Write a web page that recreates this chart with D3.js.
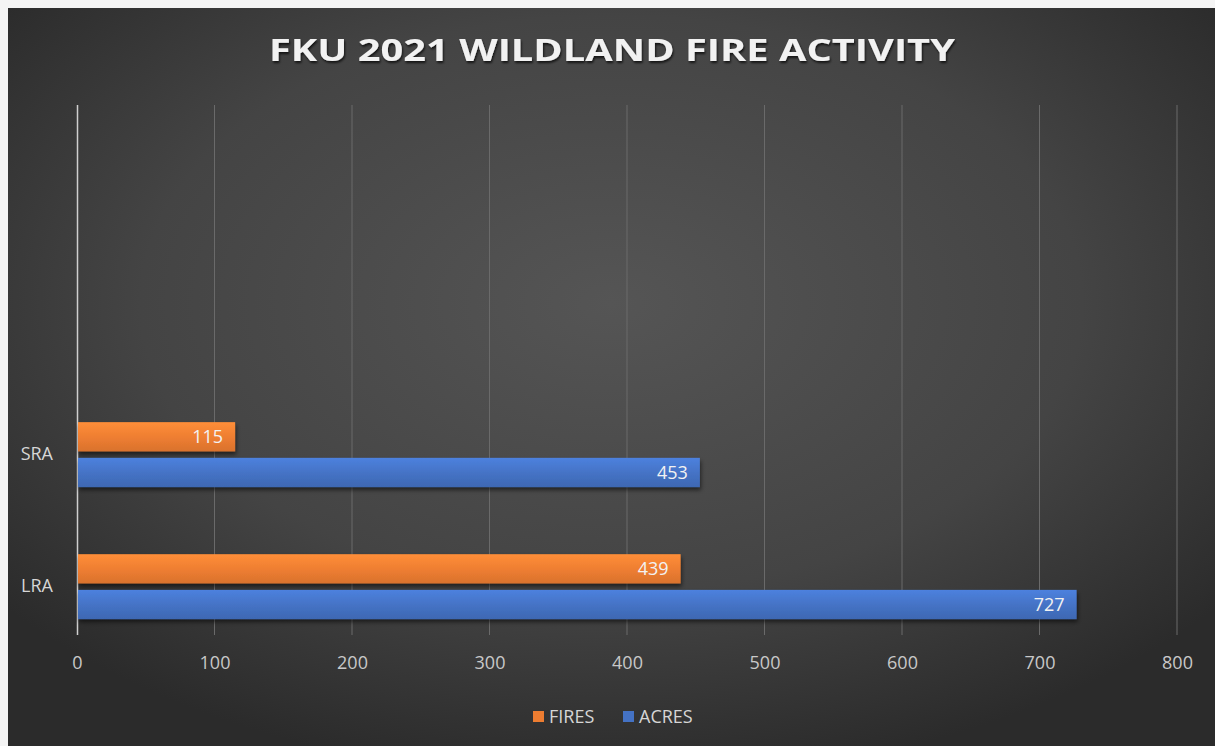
<!DOCTYPE html>
<html>
<head>
<meta charset="utf-8">
<script src="https://cdn.jsdelivr.net/npm/d3@7"></script>
<style>
  html, body { margin: 0; padding: 0; background: #f4f4f4; }
  svg { display: block; }
</style>
</head>
<body>
<div id="chart"></div>
<script>
// chart data (the workbook had two blank rows above SRA)
const categories = ["LRA", "SRA", "", ""];
const fires = [439, 115, null, null];
const acres = [727, 453, null, null];
const seriesNames = ["FIRES", "ACRES"];
const xTicks = [0, 100, 200, 300, 400, 500, 600, 700, 800];
const title = "FKU 2021 WILDLAND FIRE ACTIVITY";

const W = 1215, H = 746;
const margin = { left: 77, right: 38, top: 105, bottom: 111 };
const colors = { FIRES: "#ED7D31", ACRES: "#4472C4" };
const font = "'Open Sans', sans-serif";

const svg = d3.select("#chart").append("svg")
  .attr("width", W).attr("height", H);

const defs = svg.append("defs");

const bg = defs.append("radialGradient").attr("id", "bg")
  .attr("cx", "50%").attr("cy", "40%").attr("r", "65%");
bg.append("stop").attr("offset", "0%").attr("stop-color", "#555555");
bg.append("stop").attr("offset", "60%").attr("stop-color", "#444444");
bg.append("stop").attr("offset", "100%").attr("stop-color", "#2b2b2b");

function barGradient(id, c) {
  const g = defs.append("linearGradient").attr("id", id)
    .attr("x1", 0).attr("y1", 0).attr("x2", 0).attr("y2", 1);
  g.append("stop").attr("offset", "0%").attr("stop-color", d3.color(c).brighter(0.35));
  g.append("stop").attr("offset", "55%").attr("stop-color", c);
  g.append("stop").attr("offset", "100%").attr("stop-color", d3.color(c).darker(0.25));
}
barGradient("gFIRES", colors.FIRES);
barGradient("gACRES", colors.ACRES);

const shadow = defs.append("filter").attr("id", "shadow")
  .attr("x", "-5%").attr("y", "-30%").attr("width", "110%").attr("height", "170%");
shadow.append("feDropShadow").attr("dx", 1).attr("dy", 3)
  .attr("stdDeviation", 2).attr("flood-color", "#000").attr("flood-opacity", 0.55);

const tshadow = defs.append("filter").attr("id", "tshadow");
tshadow.append("feDropShadow").attr("dx", 1).attr("dy", 2)
  .attr("stdDeviation", 1.2).attr("flood-color", "#000").attr("flood-opacity", 0.7);

svg.append("rect").attr("x", 8).attr("y", 8)
  .attr("width", W - 8).attr("height", H - 8)
  .attr("fill", "url(#bg)");

// scales
const x = d3.scaleLinear()
  .domain([0, 800])
  .range([margin.left, W - margin.right]);

const y = d3.scaleBand()
  .domain(d3.range(categories.length))
  .range([H - margin.bottom, margin.top])
  .paddingInner(0.508).paddingOuter(0.261)
  .align(0.77);

const inner = d3.scaleBand()
  .domain(seriesNames)
  .range([0, y.bandwidth()])
  .paddingInner(0.18);

// gridlines
svg.append("g")
  .selectAll("line")
  .data(xTicks.slice(1))
  .join("line")
  .attr("x1", d => x(d)).attr("x2", d => x(d))
  .attr("y1", margin.top).attr("y2", H - margin.bottom)
  .attr("stroke", "#6a6a6a").attr("stroke-width", 1);

// x axis labels
const xAxis = svg.append("g")
  .attr("transform", `translate(0,${H - margin.bottom})`)
  .call(d3.axisBottom(x).tickValues(xTicks).tickSize(0).tickPadding(21));
xAxis.select(".domain").remove();
xAxis.selectAll("text")
  .attr("fill", "#c8c8c8")
  .style("font-family", font)
  .style("font-size", "18px");

// y axis
const yAxis = svg.append("g")
  .attr("transform", `translate(${margin.left},0)`)
  .call(d3.axisLeft(y).tickFormat(i => categories[i]).tickSize(0).tickPadding(24));
yAxis.select(".domain")
  .attr("d", `M0.5,${margin.top}V${H - margin.bottom}`)
  .attr("stroke", "#cfcfcf").attr("stroke-width", 1.5);
yAxis.selectAll("text")
  .attr("fill", "#d6d6d6")
  .style("font-family", font)
  .style("font-size", "18px");

// bars
const rows = [];
categories.forEach((c, i) => {
  if (fires[i] != null) rows.push({ cat: i, series: "FIRES", value: fires[i] });
  if (acres[i] != null) rows.push({ cat: i, series: "ACRES", value: acres[i] });
});

const barY = d => y(d.cat) + inner(d.series);

const bars = svg.append("g");
bars.selectAll("rect")
  .data(rows)
  .join("rect")
  .attr("x", x(0) + 1)
  .attr("y", d => barY(d))
  .attr("width", d => x(d.value) - x(0) - 1)
  .attr("height", inner.bandwidth())
  .attr("fill", d => `url(#g${d.series})`)
  .attr("filter", "url(#shadow)");

bars.selectAll("text")
  .data(rows)
  .join("text")
  .attr("x", d => x(d.value) - 12)
  .attr("y", d => barY(d) + inner.bandwidth() / 2)
  .attr("dy", "0.36em")
  .attr("text-anchor", "end")
  .attr("fill", "#f2f2f2")
  .style("font-family", font)
  .style("font-size", "18px")
  .text(d => d.value);

// title
svg.append("text")
  .attr("x", 612).attr("y", 61)
  .attr("text-anchor", "middle")
  .attr("fill", "#f2f2f2")
  .attr("filter", "url(#tshadow)")
  .attr("textLength", 686)
  .attr("lengthAdjust", "spacingAndGlyphs")
  .style("font-family", font)
  .style("font-weight", "700")
  .style("font-size", "31px")
  .text(title);

// legend
const legend = svg.append("g").attr("transform", `translate(533,717)`);
const items = legend.selectAll("g")
  .data(seriesNames)
  .join("g")
  .attr("transform", (d, i) => `translate(${i * 90},0)`);
items.append("rect")
  .attr("x", 0).attr("y", -6)
  .attr("width", 11).attr("height", 11)
  .attr("fill", d => colors[d]);
items.append("text")
  .attr("x", 16).attr("dy", "0.36em")
  .attr("fill", "#d6d6d6")
  .style("font-family", font)
  .style("font-size", "18px")
  .text(d => d);
</script>
</body>
</html>
